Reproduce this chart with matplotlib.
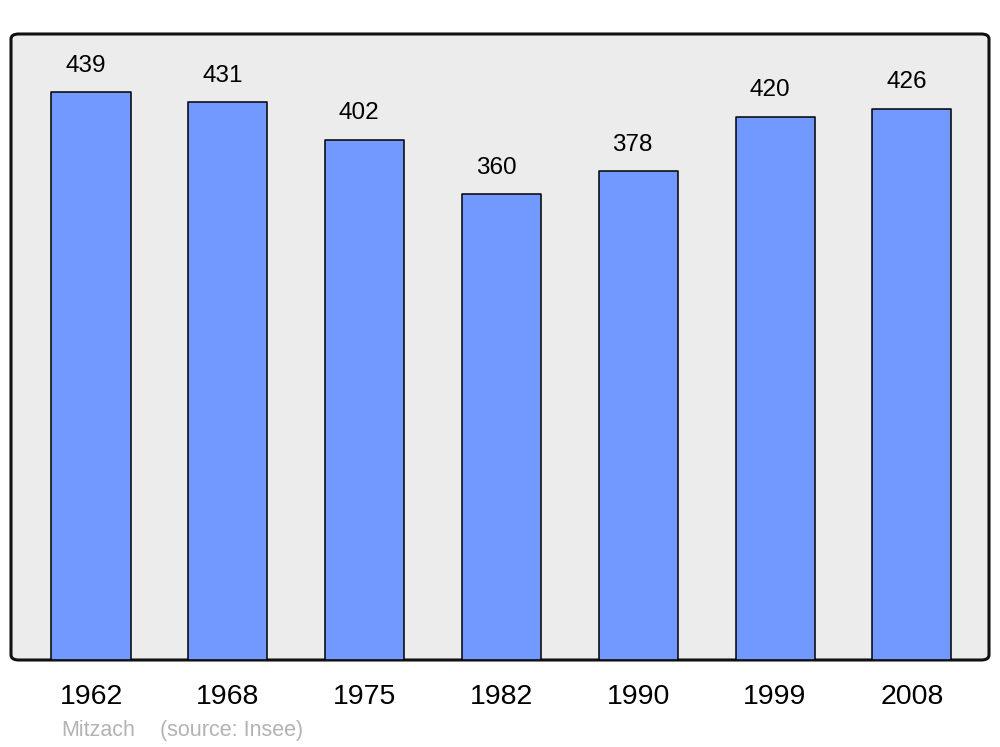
import matplotlib.pyplot as plt
from matplotlib.patches import FancyBboxPatch

plt.rcParams['font.family'] = ['Liberation Sans', 'DejaVu Sans']

years = ['1962', '1968', '1975', '1982', '1990', '1999', '2008']
population = [439, 431, 402, 360, 378, 420, 426]
commune = 'Mitzach'
source = '(source: Insee)'

fig = plt.figure(figsize=(10, 7.47), dpi=100)
ax = fig.add_axes([0.011, 1 - 660/747, 0.978, (660 - 34)/747])
ax.set_facecolor('none')

# grey rounded frame
frame = FancyBboxPatch((0, 0), 1, 1, boxstyle='round,pad=0,rounding_size=0.008',
                       transform=ax.transAxes, facecolor='#ececec', edgecolor='#111111',
                       linewidth=2.2, clip_on=False, zorder=0)
ax.add_patch(frame)

x = list(range(len(years)))
bars = ax.bar(x, population, width=0.578, color='#7299ff', edgecolor='black',
              linewidth=1.1, zorder=2)
for b in bars:
    b.set_joinstyle('round')

for xi, v in zip(x, population):
    ax.annotate(str(v), (xi, v), xytext=(-4, 19), textcoords='offset points',
                ha='center', va='center', fontsize=17.5, color='black')

ax.set_xlim(-0.585, 6.564)
ax.set_ylim(0, 483.8)
ax.set_xticks(x)
ax.set_xticklabels(years, fontsize=20.5)
ax.tick_params(axis='x', length=0, pad=17.5)
ax.set_yticks([])
for s in ax.spines.values():
    s.set_visible(False)

fig.text(0.061, 1 - 736/747, commune, fontsize=15.5, color='#b3b3b3', va='baseline')
fig.text(0.160, 1 - 736/747, source, fontsize=15.5, color='#b3b3b3', va='baseline')

fig.savefig('out.png', dpi=100)
